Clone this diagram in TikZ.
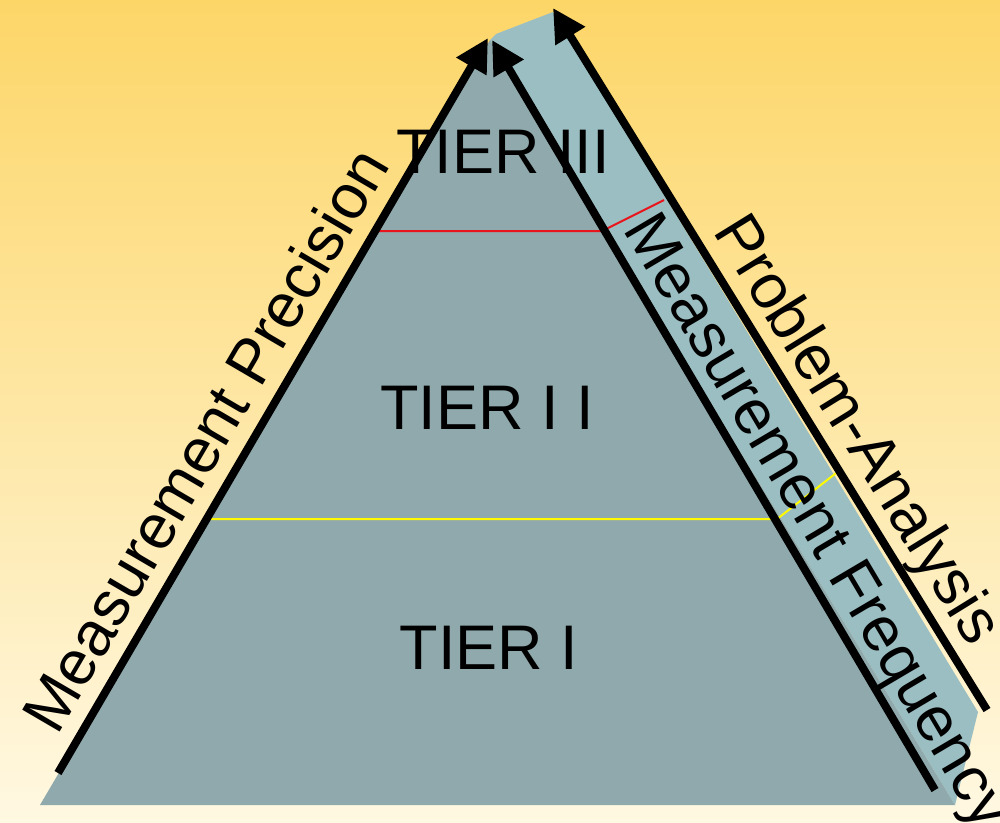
\documentclass[tikz,border=0pt]{standalone}
\usepackage{fontspec}
\setmainfont{Liberation Sans}
\usetikzlibrary{arrows.meta}
\definecolor{bgtop}{RGB}{253,214,104}
\definecolor{bgbot}{RGB}{255,248,226}
\definecolor{frontc}{RGB}{143,169,172}
\definecolor{sidec}{RGB}{155,190,194}
\definecolor{redl}{RGB}{232,22,28}
\definecolor{yell}{RGB}{255,250,0}
\begin{document}
\begin{tikzpicture}[x=1pt,y=-1pt,
  big/.style={font=\fontsize{63}{70}\selectfont, inner sep=0pt},
  arr/.style={line width=8pt, -{Triangle[length=33pt,width=33pt]}},
  tierline/.style={line width=2pt}]
\useasboundingbox (0,0) rectangle (1000,822);
\clip (0,0) rectangle (1000,822);
\shade[top color=bgtop, bottom color=bgbot] (0,0) rectangle (1000,822);
% pyramid
\coordinate (apex) at (490,40);
\coordinate (bl) at (40,805);
\coordinate (br) at (955,805);
\coordinate (stl) at (496,34);
\coordinate (str) at (553,12);
\coordinate (sbr) at (978,712);
\fill[sidec] (stl) -- (str) -- (sbr) -- (br) -- (apex) -- cycle;
\fill[frontc] (apex) -- (bl) -- (br) -- cycle;
% tier lines
\coordinate (r1) at (377,231);
\coordinate (r2) at (602,231);
\coordinate (r3) at (664,200);
\coordinate (y1) at (205,519);
\coordinate (y2) at (777,519);
\coordinate (y3) at (840,470);
\draw[tierline, redl] (r1) -- (r2) -- (r3);
\draw[tierline, yell] (y1) -- (y2) -- (y3);
% arrows
\coordinate (mpS) at (58,773);
\coordinate (mpT) at (488,38);
\coordinate (mfS) at (935,790);
\coordinate (mfT) at (492,40);
\coordinate (paS) at (987,710);
\coordinate (paT) at (553,8);
\draw[arr] (mpS) -- (mpT);
\draw[arr] (mfS) -- (mfT);
\draw[arr] (paS) -- (paT);
% labels
\node[big] (t3) at (503,151.5) {TIER III};
\node[big] (t2) at (487,408) {TIER I I};
\node[big] (t1) at (489,648) {TIER I};
\node[big, anchor=base, rotate=59.7] (mp) at (224,451) {Measurement Precision};
\node[big, anchor=base, rotate=-59.4] (mf) at (801,531) {Measurement Frequency};
\node[big, anchor=base, rotate=-58.3] (pa) at (841,440) {Problem-Analysis};
\end{tikzpicture}
\end{document}
